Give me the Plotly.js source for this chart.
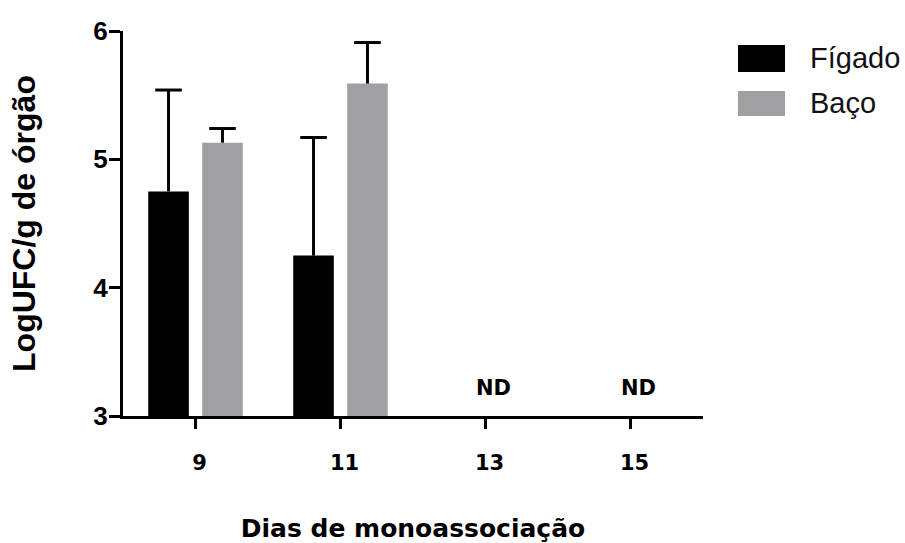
<!DOCTYPE html>
<html>
<head>
<meta charset="utf-8">
<script src="https://cdn.plot.ly/plotly-3.0.1.min.js"></script>
<style>
  html, body { margin: 0; padding: 0; background: #fff; }
  #chart { width: 905px; height: 543px; }
</style>
</head>
<body>
<div id="chart"></div>
<script>
// Days of monoassociation (x categories)
const days = ['9', '11', '13', '15'];

// Log CFU per gram of organ, mean and upper error (null = not detected)
const seriesNames = ['Fígado', 'Baço'];
const figado = [4.75, 4.25, null, null];
const figadoErr = [0.79, 0.92, null, null];
const baco = [5.13, 5.59, null, null];
const bacoErr = [0.11, 0.32, null, null];

const notDetectedText = 'ND';

const colors = ['#000000', '#a0a0a4'];
const barOffset = 0.186;
const barWidth = 0.28;

const idx = days.map((d, i) => i);

function barTrace(name, vals, errs, color, shift) {
  return {
    type: 'bar',
    name: name,
    x: idx.map(i => i + shift),
    y: vals,
    width: barWidth,
    marker: { color: color, line: { width: 0 } },
    error_y: {
      type: 'data', symmetric: false,
      array: errs, arrayminus: errs.map(e => e == null ? null : 0),
      color: '#000', thickness: 3, width: 0
    },
    showlegend: false,
    hoverinfo: 'x+y'
  };
}

// horizontal caps at the top of each error whisker
function capTrace(vals, errs, shift) {
  return {
    type: 'scatter', mode: 'markers',
    x: idx.map(i => i + shift),
    y: vals.map((v, i) => v == null ? null : v + errs[i]),
    marker: { symbol: 'line-ew', size: 19, color: '#000', line: { width: 3, color: '#000' } },
    showlegend: false, hoverinfo: 'skip'
  };
}

const data = [
  barTrace(seriesNames[0], figado, figadoErr, colors[0], -barOffset),
  barTrace(seriesNames[1], baco, bacoErr, colors[1], barOffset),
  capTrace(figado, figadoErr, -barOffset),
  capTrace(baco, bacoErr, barOffset)
];

// "ND" above the axis wherever neither organ had a value
const annotations = [];
idx.forEach(i => {
  if (figado[i] == null && baco[i] == null) {
    annotations.push({
      x: i, y: 3, xref: 'x', yref: 'y', text: notDetectedText,
      showarrow: false, yanchor: 'bottom', xshift: 8, yshift: 14,
      font: { family: 'DejaVu Sans', size: 21, color: '#000', weight: 'bold' }
    });
  }
});

// legend drawn as swatches + labels to the right of the plot
const shapes = [];
const legendRows = [
  { y0: 0.8935, y1: 0.9636, ty: 0.930 },
  { y0: 0.7792, y1: 0.8442, ty: 0.813 }
];
seriesNames.forEach((n, k) => {
  const r = legendRows[k];
  shapes.push({
    type: 'rect', xref: 'paper', yref: 'paper',
    x0: 1.0603, x1: 1.1414, y0: r.y0, y1: r.y1,
    fillcolor: colors[k], line: { width: 0 }
  });
  annotations.push({
    xref: 'paper', yref: 'paper', x: 1.181, y: r.ty,
    xanchor: 'left', yanchor: 'middle', showarrow: false, text: n,
    font: { family: 'Liberation Sans, Arial, sans-serif', size: 29, color: '#111' }
  });
});

const layout = {
  width: 905, height: 543,
  margin: { l: 123, r: 202, t: 31, b: 127 },
  paper_bgcolor: '#fff', plot_bgcolor: '#fff',
  barmode: 'overlay',
  showlegend: false,
  xaxis: {
    range: [-0.5, 3.5],
    tickvals: idx, ticktext: days,
    showgrid: false, zeroline: false,
    showline: true, linecolor: '#000', linewidth: 3,
    ticks: 'outside', ticklen: 10, tickwidth: 3, tickcolor: '#000',
    ticklabelshift: 4,
    ticklabelstandoff: 16,
    tickfont: { family: 'DejaVu Sans', size: 21, color: '#000', weight: 'bold' },
    title: {
      text: 'Dias de monoassociação',
      font: { family: 'DejaVu Sans', size: 25, color: '#000', weight: 'bold' },
      standoff: 46
    },
    fixedrange: true
  },
  yaxis: {
    range: [3, 6],
    tickvals: [3, 4, 5, 6],
    showgrid: false, zeroline: false,
    showline: true, linecolor: '#000', linewidth: 3,
    ticks: 'outside', ticklen: 11, tickwidth: 3, tickcolor: '#000',
    ticklabelstandoff: -4,
    tickfont: { family: 'Liberation Sans, Arial, sans-serif', size: 26, color: '#000', weight: 'bold' },
    title: {
      text: 'LogUFC/g de órgão',
      font: { family: 'Liberation Sans, Arial, sans-serif', size: 32, color: '#000', weight: 'bold' },
      standoff: 49
    },
    fixedrange: true
  },
  shapes: shapes,
  annotations: annotations
};

Plotly.newPlot('chart', data, layout, { displayModeBar: false, staticPlot: true });
</script>
</body>
</html>
